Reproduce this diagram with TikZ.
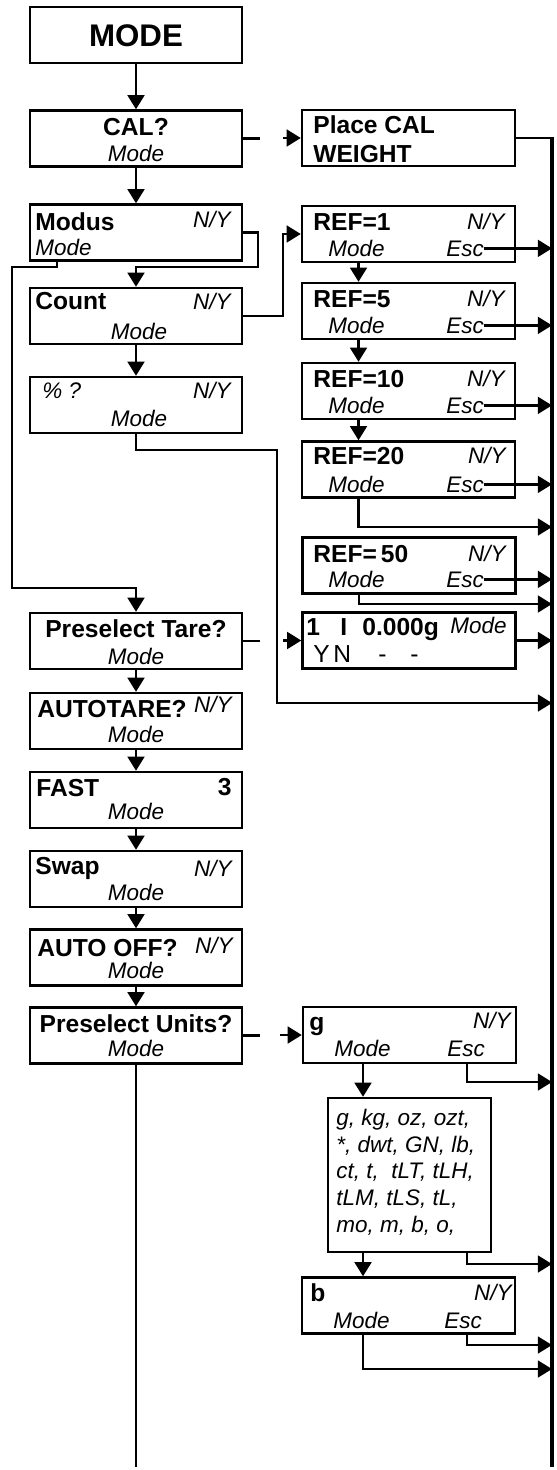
\documentclass[tikz,border=0pt]{standalone}
\usepackage{fontspec}
\setmainfont{Liberation Sans}
\usetikzlibrary{arrows.meta}
\usetikzlibrary{positioning}

\tikzset{
  box/.style={draw,line width=1.4pt,minimum width=4.24cm,minimum height=1.12cm,inner sep=0pt},
  rbox/.style={box,minimum width=4.26cm},
  big/.style={font=\fontsize{17.8}{20}\selectfont\bfseries,inner sep=0pt},
  hd/.style={font=\fontsize{14}{16}\selectfont\bfseries,inner sep=0pt,anchor=base west},
  rg/.style={font=\fontsize{14}{16}\selectfont,inner sep=0pt,anchor=base west},
  md/.style={font=\fontsize{12.8}{15}\selectfont\itshape,inner sep=0pt,anchor=base west},
  ln/.style={line width=1.4pt},
  busln/.style={line width=1.8pt},
  conn/.style={ln,-{Triangle[length=8pt,width=9.5pt]}}
}

\begin{document}
\begin{tikzpicture}[x=0.02cm,y=-0.02cm]
\useasboundingbox (0,0) rectangle (557,1470);

% main column
\node[box] (mode) at (136,35) {};
\node[big,anchor=base] (mode-t) at (136,46.5) {MODE};

\node[box] (cal) at (136,138.5) {};
\node[hd,anchor=base] (cal-t) at (136,135) {CAL?};
\node[md,anchor=base] (cal-m) at (136,161.5) {Mode};

\node[box] (modus) at (136,232.5) {};
\node[hd] (modus-t) at (35,230) {Modus};
\node[md] (modus-m) at (35,255) {Mode};
\node[md,anchor=base east] (modus-ny) at (231,227) {N/Y};

\node[box] (count) at (136,316) {};
\node[hd] (count-t) at (35,309) {Count};
\node[md,anchor=base east] (count-ny) at (231,309) {N/Y};
\node[md,anchor=base] (count-m) at (139,339) {Mode};

\node[box] (pct) at (136,405) {};
\node[md] (pct-t) at (42,398) {\% ?};
\node[md,anchor=base east] (pct-ny) at (231,398) {N/Y};
\node[md,anchor=base] (pct-m) at (139,426) {Mode};

\node[box] (tare) at (136,641) {};
\node[hd,anchor=base] (tare-t) at (136,637) {Preselect Tare?};
\node[md,anchor=base] (tare-m) at (136,664) {Mode};

\node[box] (atare) at (136,721) {};
\node[hd] (atare-t) at (37,717) {AUTOTARE?};
\node[md,anchor=base east] (atare-ny) at (232,712) {N/Y};
\node[md,anchor=base] (atare-m) at (136,742) {Mode};

\node[box] (fast) at (136,800) {};
\node[hd] (fast-t) at (36,796) {FAST};
\node[hd,anchor=base east] (fast-v) at (232,795) {3};
\node[md,anchor=base] (fast-m) at (136,819) {Mode};

\node[box] (swap) at (136,879) {};
\node[hd] (swap-t) at (35,874) {Swap};
\node[md,anchor=base east] (swap-ny) at (232,876) {N/Y};
\node[md,anchor=base] (swap-m) at (136,900) {Mode};

\node[box] (aoff) at (136,957.5) {};
\node[hd] (aoff-t) at (37,956) {AUTO OFF?};
\node[md,anchor=base east] (aoff-ny) at (233,953) {N/Y};
\node[md,anchor=base] (aoff-m) at (136,978) {Mode};

\node[box] (units) at (136,1035.5) {};
\node[hd,anchor=base] (units-t) at (136,1032) {Preselect Units?};
\node[md,anchor=base] (units-m) at (136,1056) {Mode};

% right column
\node[rbox] (calw) at (408.5,138) {};
\node[hd] (calw-a) at (313,133) {Place CAL};
\node[hd] (calw-b) at (313,162) {WEIGHT};

\node[rbox] (ref1) at (408.5,234) {};
\node[hd] (ref1-t) at (313,230) {REF=1};
\node[md,anchor=base east] (ref1-ny) at (505,229) {N/Y};
\node[md] (ref1-m) at (328,256) {Mode};
\node[md] (ref1-esc) at (446,256) {Esc};

\node[rbox] (ref5) at (408.5,311) {};
\node[hd] (ref5-t) at (313,307) {REF=5};
\node[md,anchor=base east] (ref5-ny) at (505,306) {N/Y};
\node[md] (ref5-m) at (328,333) {Mode};
\node[md] (ref5-esc) at (446,333) {Esc};

\node[rbox] (ref10) at (408.5,391) {};
\node[hd] (ref10-t) at (313,387) {REF=10};
\node[md,anchor=base east] (ref10-ny) at (505,386) {N/Y};
\node[md] (ref10-m) at (328,413) {Mode};
\node[md] (ref10-esc) at (446,413) {Esc};

\node[rbox] (ref20) at (408.5,469.5) {};
\node[hd] (ref20-t) at (313,464) {REF=20};
\node[md,anchor=base east] (ref20-ny) at (506,463) {N/Y};
\node[md] (ref20-m) at (328,492) {Mode};
\node[md] (ref20-esc) at (446,492) {Esc};

\node[rbox] (ref50) at (409,565.5) {};
\node[hd] (ref50-t) at (313,562) {REF=\,50};
\node[md,anchor=base east] (ref50-ny) at (506,561) {N/Y};
\node[md] (ref50-m) at (328,587) {Mode};
\node[md] (ref50-esc) at (446,587) {Esc};

\node[rbox] (disp) at (409,640.5) {};
\node[hd] (disp-a) at (306,635) {1};
\node[hd] (disp-b) at (340,635) {I};
\node[hd] (disp-c) at (362,635) {0.000g};
\node[md] (disp-d) at (450,633) {Mode};
\node[rg] (disp-y) at (313,662) {Y};
\node[rg] (disp-n) at (333,662) {N};
\node[rg] (disp-e) at (378,662) {-};
\node[rg] (disp-f) at (410,662) {-};

\node[rbox] (gunit) at (409.5,1035) {};
\node[hd] (gunit-t) at (309,1030) {g};
\node[md,anchor=base east] (gunit-ny) at (511,1028) {N/Y};
\node[md] (gunit-m) at (334,1056) {Mode};
\node[md] (gunit-esc) at (447,1056) {Esc};

\node[box,minimum width=3.26cm,minimum height=3.08cm] (list) at (409.5,1175) {};
\node[md] (list-a) at (336,1125) {g, kg, oz, ozt,};
\node[md] (list-b) at (336,1152) {*, dwt, GN, lb,};
\node[md] (list-c) at (336,1178) {ct, t, \ tLT, tLH,};
\node[md] (list-d) at (336,1205) {tLM, tLS, tL,};
\node[md] (list-e) at (336,1232) {mo, m, b, o,};

\node[rbox] (bunit) at (408.5,1305.5) {};
\node[hd] (bunit-t) at (310,1301) {b};
\node[md,anchor=base east] (bunit-ny) at (512,1300) {N/Y};
\node[md] (bunit-m) at (333,1328) {Mode};
\node[md] (bunit-esc) at (444,1328) {Esc};

% joints
\coordinate (bus) at (552,137);
\coordinate (busend) at (552,1467);
\coordinate (modj) at (258,267);
\coordinate (lft) at (12,267);
\coordinate (lftb) at (12,588);
\coordinate (cntj) at (283,316);
\coordinate (pctj) at (277,450);
\coordinate (pctend) at (552,703);
\coordinate (calstub) at (260,138.5);
\coordinate (calin) at (283,138);
\coordinate (tarestub) at (260,641);
\coordinate (tarein) at (283,640.5);
\coordinate (unitstub) at (260,1035.5);
\coordinate (unitin) at (280,1035);
\coordinate (endl) at (136,1467);

% main flow
\draw[conn] (mode.south) -- (cal.north);
\draw[conn] (cal.south) -- (modus.north);
\draw[ln] (cal.east) -- (calstub);
\draw[conn] (calin) -- (calw.west);
\draw[ln] (calw.east) -- (calw.east -| bus);
\draw[busln] (bus) -- (busend);
\draw[conn] (modus.east) -| (modj) -| (count.north);
\draw[conn] ([xshift=0.56cm]modus.south west) |- (lft) -- (lftb) -| (tare.north);
\draw[conn] (count.east) -- (cntj) |- (ref1.west);
\draw[conn] (count.south) -- (pct.north);
\draw[conn] (pct.south) |- (pctj) |- (pctend);
\draw[ln] (tare.east) -- (tarestub);
\draw[conn] (tarein) -- (disp.west);
\draw[conn] (tare.south) -- (atare.north);
\draw[conn] (atare.south) -- (fast.north);
\draw[conn] (fast.south) -- (swap.north);
\draw[conn] (swap.south) -- (aoff.north);
\draw[conn] (aoff.south) -- (units.north);
\draw[ln] (units.east) -- (unitstub);
\draw[conn] (unitin) -- (gunit.west);
\draw[ln] (units.south) -- (endl);

% REF chain
\draw[conn] ([xshift=-1cm]ref1.south) -- ([xshift=-1cm]ref5.north);
\draw[conn] ([xshift=-1cm]ref5.south) -- ([xshift=-1cm]ref10.north);
\draw[conn] ([xshift=-1cm]ref10.south) -- ([xshift=-1cm]ref20.north);
\draw[conn] (ref1-esc.east) -- (ref1-esc.east -| bus);
\draw[conn] (ref5-esc.east) -- (ref5-esc.east -| bus);
\draw[conn] (ref10-esc.east) -- (ref10-esc.east -| bus);
\draw[conn] (ref20-esc.east) -- (ref20-esc.east -| bus);
\draw[conn] (ref50-esc.east) -- (ref50-esc.east -| bus);
\draw[conn] ([xshift=-1cm]ref20.south) |- (552,527);
\draw[conn] ([xshift=-1cm]ref50.south) |- (552,604);
\draw[conn] (disp.east) -- (disp.east -| bus);

% units
\draw[conn] ([xshift=1.15cm]gunit.south) |- (552,1082);
\draw[conn] ([xshift=-0.93cm]gunit.south) -- ([xshift=-0.93cm]gunit.south |- list.north);
\draw[conn] ([xshift=1.15cm]list.south) |- (552,1264);
\draw[conn] ([xshift=-0.93cm]list.south) -- ([xshift=-0.93cm]list.south |- bunit.north);
\draw[conn] ([xshift=1.17cm]bunit.south) |- (552,1345);
\draw[conn] ([xshift=-0.91cm]bunit.south) |- (552,1369);

\end{tikzpicture}
\end{document}
